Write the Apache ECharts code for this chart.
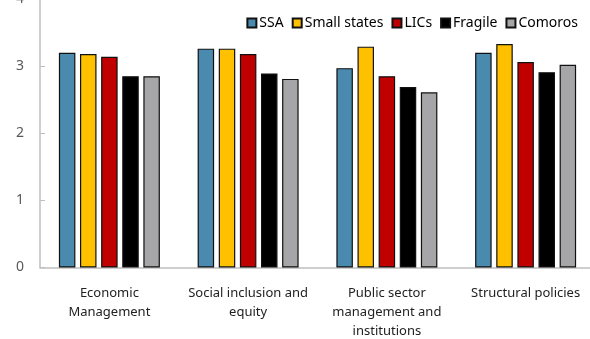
<!DOCTYPE html>
<html>
<head>
<meta charset="utf-8">
<script src="https://cdn.jsdelivr.net/npm/echarts@6/dist/echarts.min.js"></script>
<style>
  html, body { margin: 0; padding: 0; background: #fff; }
  #chart { width: 590px; height: 339px; }
</style>
</head>
<body>
<div id="chart"></div>
<script>
// CPIA cluster scores by country group
const categories = [
  'Economic\nManagement',
  'Social inclusion and\nequity',
  'Public sector\nmanagement and\ninstitutions',
  'Structural policies'
];
const seriesNames = ['SSA', 'Small states', 'LICs', 'Fragile', 'Comoros'];
const ssa         = [3.20, 3.26, 2.97, 3.20];
const smallStates = [3.18, 3.26, 3.29, 3.33];
const lics        = [3.14, 3.18, 2.85, 3.06];
const fragile     = [2.85, 2.89, 2.69, 2.91];
const comoros     = [2.85, 2.81, 2.61, 3.02];
const yTicks = [0, 1, 2, 3, 4];

const values = [ssa, smallStates, lics, fragile, comoros];
const colors = ['#4A8AAE', '#FFC000', '#C00000', '#000000', '#A6A6A8'];
const font = '"Noto Sans", sans-serif';

const chart = echarts.init(document.getElementById('chart'));
chart.setOption({
  animation: false,
  grid: { left: 40, right: -5, top: -1, bottom: 71.5, outerBoundsMode: 'none', containLabel: false },
  legend: {
    top: 11,
    right: 7,
    itemWidth: 9,
    itemHeight: 9,
    itemGap: 8,
    icon: 'rect',
    textStyle: { fontFamily: font, fontSize: 14, color: '#000', padding: [0, 0, 0, -2] },
    data: seriesNames
  },
  xAxis: {
    type: 'category',
    data: categories,
    axisLine: { lineStyle: { color: '#BFBFBF', width: 1.5 } },
    axisTick: { inside: true, length: 6, lineStyle: { color: '#BFBFBF' } },
    axisLabel: {
      fontFamily: font, fontSize: 13, color: '#222',
      margin: 16, lineHeight: 19, interval: 0
    }
  },
  yAxis: {
    type: 'value',
    min: yTicks[0],
    max: yTicks[yTicks.length - 1],
    interval: 1,
    splitLine: { show: false },
    axisLine: { show: true, lineStyle: { color: '#BFBFBF', width: 1.5 } },
    axisTick: { show: true, inside: true, length: 5, lineStyle: { color: '#BFBFBF' } },
    axisLabel: { fontFamily: font, fontSize: 14, color: '#595959', margin: 16 }
  },
  series: seriesNames.map((name, i) => ({
    name,
    type: 'bar',
    data: values[i],
    barWidth: 16.5,
    barGap: '28%',
    itemStyle: { color: colors[i], borderColor: '#111', borderWidth: 1.2 }
  }))
});
</script>
</body>
</html>
